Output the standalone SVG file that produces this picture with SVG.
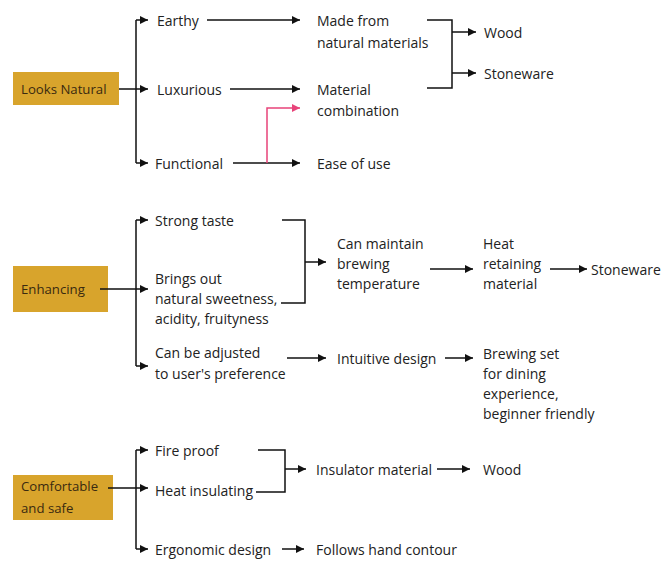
<svg xmlns="http://www.w3.org/2000/svg" width="662" height="561" viewBox="0 0 662 561">
<defs>
<marker id="ah" viewBox="0 0 10 10" refX="10" refY="5" markerWidth="8" markerHeight="8" markerUnits="userSpaceOnUse" orient="auto"><path d="M0,0 L10,5 L0,10 z" fill="#111"/></marker>
<marker id="ahp" viewBox="0 0 10 10" refX="10" refY="5" markerWidth="8" markerHeight="8" markerUnits="userSpaceOnUse" orient="auto"><path d="M0,0 L10,5 L0,10 z" fill="#e8437a"/></marker>
</defs>
<style>
text{font-family:"Open Sans","Liberation Sans",sans-serif;font-size:14px;fill:#222;dominant-baseline:central}
.bt{font-size:13.2px;fill:#3a2a10}
.box{fill:#d8a42c}
.ln{fill:none;stroke:#111;stroke-width:1.5}
.ar{fill:none;stroke:#111;stroke-width:1.5;marker-end:url(#ah)}
.pk{fill:none;stroke:#e8437a;stroke-width:1.5;marker-end:url(#ahp)}
</style>
<rect width="662" height="561" fill="#fff"/>
<g id="n-looks"><rect class="box" x="13" y="72" width="106" height="33"/><text class="bt" x="21" y="89">Looks Natural</text></g>
<g id="n-earthy"><text x="157" y="20">Earthy</text></g>
<g id="n-lux"><text x="157" y="89">Luxurious</text></g>
<g id="n-func"><text x="155" y="163">Functional</text></g>
<g id="n-made"><text x="317" y="20">Made from</text><text x="317" y="42">natural materials</text></g>
<g id="n-matcomb"><text x="317" y="89">Material</text><text x="317" y="110">combination</text></g>
<g id="n-ease"><text x="317" y="163">Ease of use</text></g>
<g id="n-wood1"><text x="484" y="32">Wood</text></g>
<g id="n-stone1"><text x="484" y="73">Stoneware</text></g>

<g id="n-enh"><rect class="box" x="13" y="266" width="95" height="46"/><text class="bt" x="21" y="289">Enhancing</text></g>
<g id="n-strong"><text x="155" y="220">Strong taste</text></g>
<g id="n-brings"><text x="155" y="278">Brings out</text><text x="155" y="298">natural sweetness,</text><text x="155" y="318">acidity, fruityness</text></g>
<g id="n-adj"><text x="155" y="352">Can be adjusted</text><text x="155" y="373">to user's preference</text></g>
<g id="n-maint"><text x="337" y="243">Can maintain</text><text x="337" y="263">brewing</text><text x="337" y="283">temperature</text></g>
<g id="n-heat"><text x="483" y="243">Heat</text><text x="483" y="263">retaining</text><text x="483" y="283">material</text></g>
<g id="n-stone2"><text x="591" y="269">Stoneware</text></g>
<g id="n-intu"><text x="337" y="358">Intuitive design</text></g>
<g id="n-brew"><text x="483" y="353">Brewing set</text><text x="483" y="373">for dining</text><text x="483" y="393">experience,</text><text x="483" y="413">beginner friendly</text></g>

<g id="n-comf"><rect class="box" x="13" y="475" width="100" height="45"/><text class="bt" x="21" y="486">Comfortable</text><text class="bt" x="21" y="508">and safe</text></g>
<g id="n-fire"><text x="155" y="450">Fire proof</text></g>
<g id="n-heatins"><text x="155" y="490">Heat insulating</text></g>
<g id="n-ergo"><text x="155" y="549">Ergonomic design</text></g>
<g id="n-insu"><text x="316" y="469">Insulator material</text></g>
<g id="n-wood2"><text x="483" y="469">Wood</text></g>
<g id="n-follow"><text x="316" y="549">Follows hand contour</text></g>

<g id="connectors">
<path class="ln" d="M119,89 H136 M136,20 V163"/>
<path class="ar" d="M136,89 H148"/>
<path class="ar" d="M136,20 H148"/>
<path class="ar" d="M136,163 H148"/>
<path class="ar" d="M207,20 H300"/>
<path class="ar" d="M230,89 H300"/>
<path class="ar" d="M233,163 H300"/>
<path class="pk" d="M267,163 V108 H300"/>
<path class="ln" d="M427,20 H452 V88 H427"/>
<path class="ar" d="M452,32 H476"/>
<path class="ar" d="M452,73 H476"/>

<path class="ln" d="M100,289 H136 M136,220 V366"/>
<path class="ar" d="M136,289 H148"/>
<path class="ar" d="M136,220 H148"/>
<path class="ar" d="M136,366 H148"/>
<path class="ln" d="M282,220 H305 V303 H281"/>
<path class="ar" d="M305,262 H326"/>
<path class="ar" d="M430,269 H473"/>
<path class="ar" d="M550,269 H587"/>
<path class="ar" d="M287,358 H326"/>
<path class="ar" d="M445,358 H473"/>

<path class="ln" d="M108,488 H136 M136,450 V549"/>
<path class="ar" d="M136,488 H148"/>
<path class="ar" d="M136,450 H148"/>
<path class="ar" d="M136,549 H148"/>
<path class="ln" d="M258,450 H285 V492 H256"/>
<path class="ar" d="M285,469 H306"/>
<path class="ar" d="M437,469 H470"/>
<path class="ar" d="M282,549 H304"/>
</g>
</svg>
